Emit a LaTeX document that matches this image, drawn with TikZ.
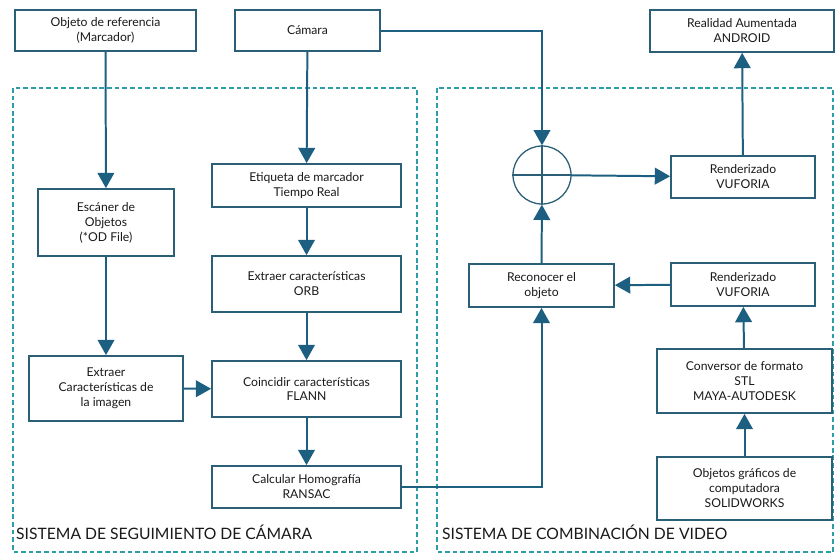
\documentclass[tikz,border=0pt]{standalone}
\usepackage{fontspec}
\setmainfont{Lato}
\usetikzlibrary{arrows.meta}
\definecolor{borde}{HTML}{2B5F77}
\definecolor{linea}{HTML}{1D5F80}
\definecolor{zona}{HTML}{2E9CAA}
\begin{document}
\begin{tikzpicture}
[x=0.3mm,y=-0.3mm,
 caja/.style={draw=borde,line width=1.5pt,align=center,font=\fontsize{10.4}{12.8}\selectfont,text=black!90,inner sep=1pt},
 flecha/.style={-{Triangle[width=5mm,length=4.6mm]},draw=linea,line width=1.7pt},
 zona/.style={draw=zona,line width=1.1pt,dash pattern=on 4pt off 2.5pt},
 rotulo/.style={anchor=west,font=\fontsize{13.4}{16}\selectfont,text=black!90}]
\useasboundingbox (0,0) rectangle (835,555);

% zonas
\draw [zona] (13,88) rectangle (417,552);
\draw [zona] (437,88) rectangle (833,552);
\node [rotulo] at (12,532) (seg) {SISTEMA DE SEGUIMIENTO DE CÁMARA};
\node [rotulo] at (438,532) (comb) {SISTEMA DE COMBINACIÓN DE VIDEO};

% bloques de la izquierda
\node [caja,minimum width=54.3mm,minimum height=12.3mm] at (105.5,30.5) (objref) {Objeto de referencia\\(Marcador)};
\node [caja,minimum width=43.5mm,minimum height=12.3mm] at (307.5,30.5) (camara) {Cámara};
\node [caja,minimum width=40.8mm,minimum height=20.1mm] at (106,222.5) (escaner) {Escáner de\\Objetos\\(*OD File)};
\node [caja,minimum width=46.2mm,minimum height=19.5mm] at (106,388.5) (extimg) {Extraer\\Características de\\la imagen};
\node [caja,minimum width=56.7mm,minimum height=12.9mm] at (306.5,185.5) (etiqueta) {Etiqueta de marcador\\Tiempo Real};
\node [caja,minimum width=56.7mm,minimum height=16.8mm] at (306.5,284) (orb) {Extraer características\\ORB};
\node [caja,minimum width=56.7mm,minimum height=16.8mm] at (306.5,389) (flann) {Coincidir características\\FLANN};
\node [caja,minimum width=56.7mm,minimum height=12.6mm] at (306.5,487) (ransac) {Calcular Homografía\\RANSAC};

% bloques de la derecha
\node [caja,minimum width=55.2mm,minimum height=12.6mm] at (742,31) (android) {Realidad Aumentada\\ANDROID};
\node [draw=borde,line width=1.1pt,circle,minimum size=17.4mm,inner sep=0pt] at (542,175) (suma) {};
\node [caja,minimum width=43.2mm,minimum height=12.6mm] at (743,177) (render) {Renderizado\\VUFORIA};
\node [caja,minimum width=43.5mm,minimum height=12.9mm] at (541.5,285.5) (reconocer) {Reconocer el\\objeto};
\node [caja,minimum width=43.2mm,minimum height=12.9mm] at (743,284.5) (renderb) {Renderizado\\VUFORIA};
\node [caja,minimum width=52.5mm,minimum height=19.2mm] at (744.5,381) (conversor) {Conversor de formato\\STL\\MAYA-AUTODESK};
\node [caja,minimum width=52.5mm,minimum height=18.9mm] at (744.5,488.5) (solid) {Objetos gráficos de\\computadora\\SOLIDWORKS};

\draw [borde,line width=1.1pt] (suma.north) -- (suma.south);
\draw [borde,line width=1.1pt] (suma.west) -- (suma.east);

\draw [flecha] (objref) -- (escaner);
\draw [flecha] (escaner) -- (extimg);
\draw [flecha] (extimg) -- (flann);
\draw [flecha] (camara) -- (etiqueta);
\draw [flecha] (camara) -| (suma);
\draw [flecha] (etiqueta) -- (orb);
\draw [flecha] (orb) -- (flann);
\draw [flecha] (flann) -- (ransac);
\draw [flecha] (ransac) -| (reconocer);
\draw [flecha] (reconocer) -- (suma);
\draw [flecha] (suma) -- (render);
\draw [flecha] (render) -- (android);
\draw [flecha] (renderb) -- (reconocer);
\draw [flecha] (conversor) -- (renderb);
\draw [flecha] (solid) -- (conversor);
\end{tikzpicture}
\end{document}
